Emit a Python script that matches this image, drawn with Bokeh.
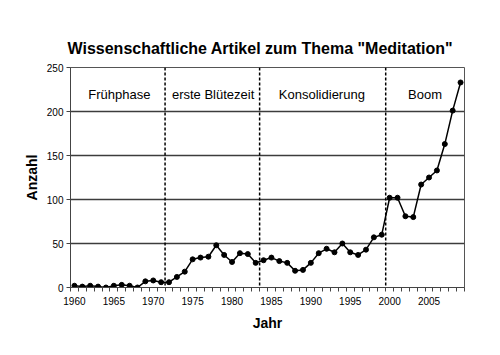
from bokeh.plotting import figure
from bokeh.models import FixedTicker, Span, Range1d, ColumnDataSource
from bokeh.core.properties import value
from bokeh.embed import file_html
from bokeh.resources import INLINE

years = list(range(1960, 2010))
counts = [2, 1, 2, 1, 0, 2, 3, 2, 0, 7,
          8, 6, 6, 12, 18, 32, 34, 35, 48, 37,
          29, 39, 38, 28, 31, 34, 30, 28, 19, 20,
          28, 39, 44, 40, 50, 40, 37, 43, 57, 60,
          102, 102, 81, 80, 117, 125, 133, 163, 201, 233]

phase_bounds = [1971.5, 1983.5, 1999.5]
phase_names = ["Frühphase", "erste Blütezeit", "Konsolidierung", "Boom"]
phase_x = [1965.7, 1977.6, 1991.4, 2004.5]
phase_y = [219, 219, 219, 219]

y_ticks = [0, 50, 100, 150, 200, 250]
x_ticks = [1960, 1965, 1970, 1975, 1980, 1985, 1990, 1995, 2000, 2005]

FONT = "Liberation Sans"

p = figure(frame_width=394, frame_height=220, output_backend="svg", toolbar_location=None,
           x_range=Range1d(1959.5, 2009.5), y_range=Range1d(0, 250),
           min_border_left=70, min_border_right=26, min_border_top=67, min_border_bottom=56,
           title='Wissenschaftliche Artikel zum Thema "Meditation"')

p.title.text_font = FONT
p.title.text_font_size = "16px"
p.title.text_font_style = "bold"
p.title.align = "left"
p.title.text_color = "black"
p.title.standoff = 22
p.title.offset = -3

p.outline_line_color = "#555555"
p.outline_line_width = 1
p.background_fill_color = "white"
p.border_fill_color = "white"

# grid
p.xgrid.grid_line_color = None
p.ygrid.ticker = FixedTicker(ticks=y_ticks)
p.ygrid.grid_line_color = "#3c3c3c"
p.ygrid.grid_line_width = 1.5

# y axis
p.yaxis.ticker = FixedTicker(ticks=y_ticks)
p.yaxis.axis_label = "Anzahl"
p.yaxis.axis_label_text_font = FONT
p.yaxis.axis_label_text_font_size = "14px"
p.yaxis.axis_label_text_font_style = "bold"
p.yaxis.axis_label_text_color = "black"
p.yaxis.axis_label_standoff = 4
p.yaxis.major_label_text_font = FONT
p.yaxis.major_label_text_font_size = "10px"
p.yaxis.major_label_text_color = "black"
p.yaxis.major_label_standoff = 3
p.yaxis.major_tick_out = 4
p.yaxis.major_tick_in = 0
p.yaxis.minor_tick_line_color = None
p.yaxis.axis_line_color = "#444444"
p.yaxis.major_tick_line_color = "#444444"

# x axis
p.xaxis.ticker = FixedTicker(ticks=x_ticks, minor_ticks=[y + 0.5 for y in range(1959, 2010)])
p.xaxis.axis_label = "Jahr"
p.xaxis.axis_label_text_font = FONT
p.xaxis.axis_label_text_font_size = "14px"
p.xaxis.axis_label_text_font_style = "bold"
p.xaxis.axis_label_text_color = "black"
p.xaxis.axis_label_standoff = 7
p.xaxis.major_label_text_font = FONT
p.xaxis.major_label_text_font_size = "10px"
p.xaxis.major_label_text_color = "black"
p.xaxis.major_label_standoff = 5
p.xaxis.major_tick_line_color = None
p.xaxis.major_tick_out = 4
p.xaxis.major_tick_in = 0
p.xaxis.minor_tick_out = 4
p.xaxis.minor_tick_in = 0
p.xaxis.minor_tick_line_color = "#444444"
p.xaxis.axis_line_color = "#444444"

for b in phase_bounds:
    p.add_layout(Span(location=b, dimension="height", line_color="black",
                      line_width=1.5, line_dash="3 2"))

src = ColumnDataSource(dict(x=years, y=counts))
p.line("x", "y", source=src, line_color="black", line_width=1.5)
p.scatter("x", "y", source=src, size=5, fill_color="black", line_color="black")

psrc = ColumnDataSource(dict(x=phase_x, y=phase_y, t=phase_names))
p.text("x", "y", text="t", source=psrc, text_align="center", text_baseline="middle",
       text_font=value(FONT), text_font_size="13px", text_color="black")

open("out.html", "w").write(file_html(p, INLINE))
